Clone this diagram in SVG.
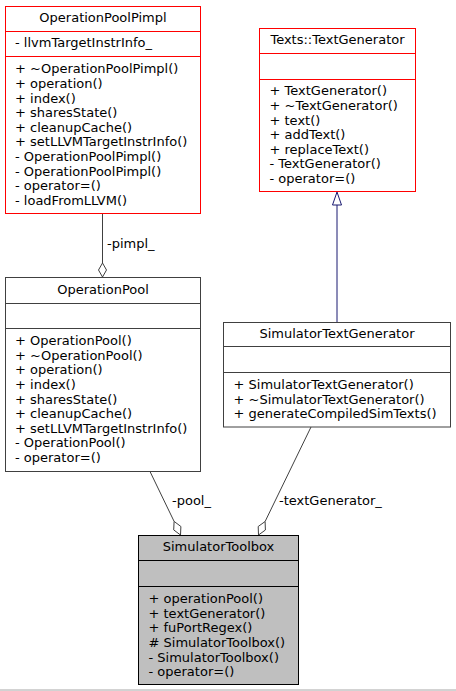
<svg xmlns="http://www.w3.org/2000/svg" width="456" height="691" viewBox="0 0 456 691">
<style>
text{font-family:"DejaVu Sans","Liberation Sans",sans-serif;font-size:13px;fill:#000}
.c{text-anchor:middle}
.red{fill:#fff;stroke:#ff0000;stroke-width:1}
.gry{fill:#fff;stroke:#404040;stroke-width:1}
.cur{fill:#bfbfbf;stroke:#000;stroke-width:1}
.dr{stroke:#ff0000;stroke-width:1}
.dg{stroke:#404040;stroke-width:1}
.dk{stroke:#000;stroke-width:1}
.edge{stroke:#404040;stroke-width:1;fill:none}
.inh{stroke:#191970;stroke-width:1;fill:none}
</style>
<rect x="0" y="0" width="456" height="691" fill="#fff"/>
<g id="connectors">
<g id="e_pimpl">
<line class="edge" x1="102.5" y1="213.5" x2="102.5" y2="263"/>
<polygon points="102.5,263 98.5,270 102.5,277 106.5,270" fill="#fff" stroke="#404040"/>
<text x="107" y="248">-pimpl_</text>
</g>
<g id="e_inherit">
<line class="inh" x1="337" y1="205" x2="337" y2="322.5"/>
<polygon points="337,192 332.5,205 341.5,205" fill="#fff" stroke="#191970"/>
</g>
<g id="e_pool">
<line class="edge" x1="150" y1="471.5" x2="174.1" y2="521.4"/>
<polygon points="174.1,521.4 180.9,526.5 180.5,535 173.7,529.9" fill="#fff" stroke="#404040"/>
<text x="172" y="505">-pool_</text>
</g>
<g id="e_textgen">
<line class="edge" x1="311" y1="427" x2="265.1" y2="521.5"/>
<polygon points="265.1,521.5 265.4,530 258.5,535 258.2,526.5" fill="#fff" stroke="#404040"/>
<text x="279" y="505">-textGenerator_</text>
</g>
</g>
<g id="OperationPoolPimpl">
<rect class="red" x="5.5" y="6.5" width="195" height="207"/>
<line class="dr" x1="5.5" y1="31.5" x2="200.5" y2="31.5"/>
<line class="dr" x1="5.5" y1="56.5" x2="200.5" y2="56.5"/>
<text class="c" x="103" y="22">OperationPoolPimpl</text>
<text x="15" y="47">- llvmTargetInstrInfo_</text>
<text x="15" y="73.3">+ ~OperationPoolPimpl()</text>
<text x="15" y="87.9">+ operation()</text>
<text x="15" y="102.5">+ index()</text>
<text x="15" y="117.1">+ sharesState()</text>
<text x="15" y="131.7">+ cleanupCache()</text>
<text x="15" y="146.3">+ setLLVMTargetInstrInfo()</text>
<text x="15" y="160.9">- OperationPoolPimpl()</text>
<text x="15" y="175.5">- OperationPoolPimpl()</text>
<text x="15" y="190.1">- operator=()</text>
<text x="15" y="204.7">- loadFromLLVM()</text>
</g>
<g id="TextGenerator">
<rect class="red" x="259.5" y="28.5" width="156" height="163"/>
<line class="dr" x1="259.5" y1="53.5" x2="415.5" y2="53.5"/>
<line class="dr" x1="259.5" y1="79.5" x2="415.5" y2="79.5"/>
<text class="c" x="337.5" y="44.3">Texts::TextGenerator</text>
<text x="269.5" y="95.3">+ TextGenerator()</text>
<text x="269.5" y="109.9">+ ~TextGenerator()</text>
<text x="269.5" y="124.5">+ text()</text>
<text x="269.5" y="139.1">+ addText()</text>
<text x="269.5" y="153.7">+ replaceText()</text>
<text x="269.5" y="168.3">- TextGenerator()</text>
<text x="269.5" y="182.9">- operator=()</text>
</g>
<g id="OperationPool">
<rect class="gry" x="5.5" y="277.5" width="195" height="194"/>
<line class="dg" x1="5.5" y1="303.5" x2="200.5" y2="303.5"/>
<line class="dg" x1="5.5" y1="328.5" x2="200.5" y2="328.5"/>
<text class="c" x="103" y="293.7">OperationPool</text>
<text x="15" y="345.1">+ OperationPool()</text>
<text x="15" y="359.7">+ ~OperationPool()</text>
<text x="15" y="374.3">+ operation()</text>
<text x="15" y="388.9">+ index()</text>
<text x="15" y="403.5">+ sharesState()</text>
<text x="15" y="418.1">+ cleanupCache()</text>
<text x="15" y="432.7">+ setLLVMTargetInstrInfo()</text>
<text x="15" y="447.3">- OperationPool()</text>
<text x="15" y="461.9">- operator=()</text>
</g>
<g id="SimulatorTextGenerator">
<rect class="gry" x="223.5" y="322.5" width="227" height="104.5"/>
<line class="dg" x1="223.5" y1="346.5" x2="450.5" y2="346.5"/>
<line class="dg" x1="223.5" y1="372.5" x2="450.5" y2="372.5"/>
<text class="c" x="337" y="337.8">SimulatorTextGenerator</text>
<text x="233.5" y="389.1">+ SimulatorTextGenerator()</text>
<text x="233.5" y="403.7">+ ~SimulatorTextGenerator()</text>
<text x="233.5" y="418.3">+ generateCompiledSimTexts()</text>
</g>
<g id="SimulatorToolbox">
<rect class="cur" x="138.5" y="535.5" width="160" height="149"/>
<line class="dk" x1="138.5" y1="560.5" x2="298.5" y2="560.5"/>
<line class="dk" x1="138.5" y1="586.5" x2="298.5" y2="586.5"/>
<text class="c" x="218.5" y="551.3">SimulatorToolbox</text>
<text x="148.5" y="603.1">+ operationPool()</text>
<text x="148.5" y="617.7">+ textGenerator()</text>
<text x="148.5" y="632.3">+ fuPortRegex()</text>
<text x="148.5" y="646.9"># SimulatorToolbox()</text>
<text x="148.5" y="661.5">- SimulatorToolbox()</text>
<text x="148.5" y="676.1">- operator=()</text>
</g>
<line x1="0" y1="690" x2="456" y2="690" stroke="#a6a6a6" stroke-width="1"/>
</svg>
